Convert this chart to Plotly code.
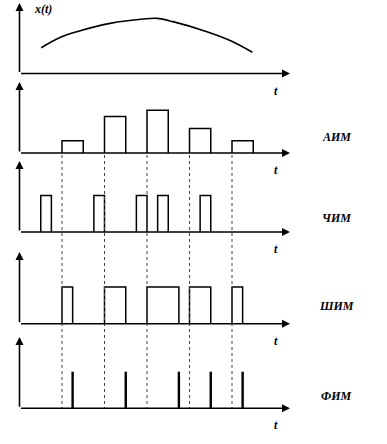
import plotly.graph_objects as go

# ---------------- data ----------------
curve_t = [0.51, 0.95, 1.35, 2.13, 2.91, 3.24, 3.61, 4.41, 5.02, 5.48]
curve_x = [2.11, 2.95, 3.43, 4.11, 4.47, 4.52, 4.25, 3.43, 2.61, 1.74]

sample_t = [1, 2, 3, 4, 5]
aim_amp = [1, 3, 3.5, 2, 1]
aim_width = 0.5

pulse_height = 3
chim_start = [0.5, 1.75, 2.75, 3.25, 4.25]
chim_width = 0.25

shim_width = [0.25, 0.5, 0.75, 0.5, 0.25]

fim_t = [1.25, 2.5, 3.75, 4.5, 5.25]

signal_label = "x(t)"
time_label = "t"
mod_labels = ["АИМ", "ЧИМ", "ШИМ", "ФИМ"]

# ---------------- layout geometry ----------------
W, H = 387, 444
X0_PX, PX_PER_T = 19.5, 42.5
PX_PER_U = 12.2
baselines = [73.5, 153, 232, 323.7, 408.3]
tops = [3, 82, 161, 252, 337]
bands = [(0, 80), (80, 158), (158, 245), (245, 332), (332, 444)]
t_min = -X0_PX / PX_PER_T
t_max = (W - X0_PX) / PX_PER_T
t_arrow = (290 - X0_PX) / PX_PER_T
t_label_t = (276 - X0_PX) / PX_PER_T
t_mod = (336 - X0_PX) / PX_PER_T
mod_dy_px = [16, 14, 18, 12]

FONT = dict(family="Liberation Serif, DejaVu Serif, serif", size=12, color="black",
            weight="bold", style="italic")

fig = go.Figure()
layout = dict(width=W, height=H, autosize=False, margin=dict(l=0, r=0, t=0, b=0),
              plot_bgcolor="white", paper_bgcolor="white", showlegend=False)
annotations = []
shapes = []


def rect_path(starts, widths, heights):
    xs, ys = [], []
    for s, w, h in zip(starts, widths, heights):
        xs += [s, s, s + w, s + w, None]
        ys += [0, h, h, 0, None]
    return xs, ys


for i in range(5):
    n = "" if i == 0 else str(i + 1)
    top_b, bot_b = bands[i]
    b = baselines[i]
    layout["xaxis" + n] = dict(domain=[0, 1], range=[t_min, t_max], visible=False,
                               fixedrange=True, anchor="y" + n)
    layout["yaxis" + n] = dict(domain=[1 - bot_b / H, 1 - top_b / H],
                               range=[-(bot_b - b) / PX_PER_U, (b - top_b) / PX_PER_U],
                               visible=False, fixedrange=True, anchor="x" + n)
    ytop = (b - tops[i]) / PX_PER_U
    # axes with arrows
    annotations.append(dict(x=0, y=ytop, ax=0, ay=0, xref="x" + n, yref="y" + n,
                            axref="x" + n, ayref="y" + n, showarrow=True, text="",
                            arrowhead=2, arrowsize=1, arrowwidth=1.6, arrowcolor="black"))
    annotations.append(dict(x=t_arrow, y=0, ax=0, ay=0, xref="x" + n, yref="y" + n,
                            axref="x" + n, ayref="y" + n, showarrow=True, text="",
                            arrowhead=2, arrowsize=1, arrowwidth=1.6, arrowcolor="black"))
    annotations.append(dict(x=t_label_t, y=0, yshift=-17, xref="x" + n, yref="y" + n,
                            text=time_label, showarrow=False, font=FONT))
    if i > 0:
        annotations.append(dict(x=t_mod, y=0, yshift=mod_dy_px[i - 1], xref="x" + n,
                                yref="y" + n, text=mod_labels[i - 1], showarrow=False,
                                font=FONT))

# signal label
annotations.append(dict(x=(43 - X0_PX) / PX_PER_T, y=(baselines[0] - 9) / PX_PER_U,
                        xref="x", yref="y", text=signal_label, showarrow=False, font=FONT))

# panel 1: continuous signal
fig.add_trace(go.Scatter(x=curve_t, y=curve_x, mode="lines", xaxis="x", yaxis="y",
                         line=dict(color="black", width=1.6, shape="spline", smoothing=1.0)))

# panel 2: АИМ
xs, ys = rect_path(sample_t, [aim_width] * 5, aim_amp)
fig.add_trace(go.Scatter(x=xs, y=ys, mode="lines", xaxis="x2", yaxis="y2",
                         line=dict(color="black", width=1.5)))

# panel 3: ЧИМ
xs, ys = rect_path(chim_start, [chim_width] * 5, [pulse_height] * 5)
fig.add_trace(go.Scatter(x=xs, y=ys, mode="lines", xaxis="x3", yaxis="y3",
                         line=dict(color="black", width=1.5)))

# panel 4: ШИМ
xs, ys = rect_path(sample_t, shim_width, [pulse_height] * 5)
fig.add_trace(go.Scatter(x=xs, y=ys, mode="lines", xaxis="x4", yaxis="y4",
                         line=dict(color="black", width=1.5)))

# panel 5: ФИМ
xs, ys = [], []
for t in fim_t:
    xs += [t, t, None]
    ys += [0, pulse_height, None]
fig.add_trace(go.Scatter(x=xs, y=ys, mode="lines", xaxis="x5", yaxis="y5",
                         line=dict(color="black", width=2.4)))

# dashed sample lines from АИМ baseline to ФИМ baseline
for t in sample_t:
    shapes.append(dict(type="line", xref="x", yref="paper", x0=t, x1=t,
                       y0=1 - (baselines[1] + 2) / H, y1=1 - baselines[4] / H,
                       line=dict(color="#444444", width=1, dash="3px,3px")))

layout["annotations"] = annotations
layout["shapes"] = shapes
fig.update_layout(**layout)
fig.write_html("out.html", config={"displayModeBar": False},
               post_script="document.body.style.margin='0';document.body.style.overflow='hidden';")
